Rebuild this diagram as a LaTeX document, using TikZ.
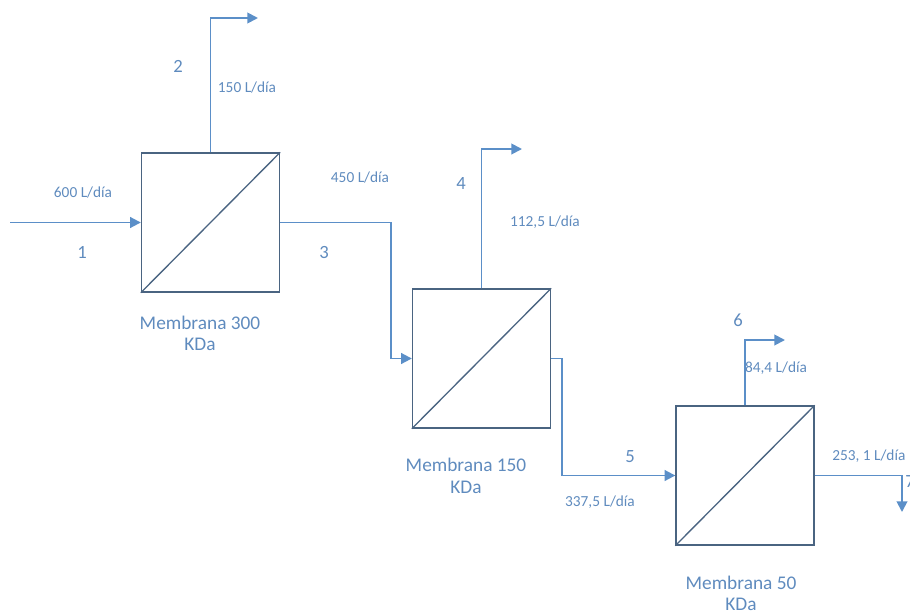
\documentclass[tikz,border=0pt]{standalone}
\usepackage{fontspec}
\setmainfont{Carlito}
\usetikzlibrary{arrows.meta}
\definecolor{flow}{HTML}{5B8FC8}
\definecolor{boxc}{HTML}{4A6481}
\definecolor{txt}{HTML}{5F8BBE}
\begin{document}
\begin{tikzpicture}[x=0.75pt,y=-0.75pt,
 membrane/.style={draw=boxc, line width=1pt, minimum width=103.5pt, minimum height=104.25pt, inner sep=0pt},
 flowline/.style={draw=flow, line width=1.4pt, -{Triangle[length=8pt,width=8pt]}},
 lbl/.style={text=txt, font=\fontsize{11.5}{13}\selectfont, inner sep=0pt},
 num/.style={text=txt, font=\fontsize{14}{16}\selectfont, inner sep=0pt},
 capt/.style={text=txt, font=\fontsize{14.5}{16}\selectfont, align=center, inner sep=0pt}]
\useasboundingbox (0,0) rectangle (910,614);

% membranes
\node[membrane] (b1) at (210.5,222.5) {};
\node[membrane] (b2) at (481.5,358.5) {};
\node[membrane] (b3) at (745,475.5) {};
\draw[boxc, line width=1pt] (b1.south west) -- (b1.north east);
\draw[boxc, line width=1pt] (b2.south west) -- (b2.north east);
\draw[boxc, line width=1pt] (b3.south west) -- (b3.north east);

% free ends
\coordinate (in1) at (10,222.5);
\coordinate (out2) at (258,18);
\coordinate (out4) at (522,149);
\coordinate (out6) at (785,340);
\coordinate (out7) at (902,512);

% flows
\draw[flowline] (in1) -- (b1.west);
\draw[flowline] (b1.north) |- (out2);
\draw[flowline] (b1.east) -- ++(111,0) |- (b2.west);
\draw[flowline] (b2.north) |- (out4);
\draw[flowline] (b2.east) -- ++(11,0) |- (b3.west);
\draw[flowline] (b3.north) |- (out6);
\draw[flowline] (b3.east) -| (out7);

% labels
\node[num] (n1) at (82,252) {1};
\node[num] (n2) at (178,66) {2};
\node[num] (n3) at (324,253) {3};
\node[num] (n4) at (461,184) {4};
\node[num] (n5) at (630,457) {5};
\node[num] (n6) at (738,320) {6};
\node[num, anchor=west] (n7) at (905,482) {7};

\node[lbl] (q1) at (83,193) {600 L/día};
\node[lbl] (q2) at (247,88) {150 L/día};
\node[lbl] (q3) at (360,178) {450 L/día};
\node[lbl] (q4) at (545,222) {112,5 L/día};
\node[lbl] (q5) at (600,502) {337,5 L/día};
\node[lbl] (q6) at (776,368) {84,4 L/día};
\node[lbl, anchor=west] (q7) at (832,456) {253, 1 L/día};

\node[capt] (c1) at (200,333.5) {Membrana 300\\KDa};
\node[capt] (c2) at (466,476) {Membrana 150\\KDa};
\node[capt] (c3) at (741,593.5) {Membrana 50\\KDa};
\end{tikzpicture}
\end{document}
